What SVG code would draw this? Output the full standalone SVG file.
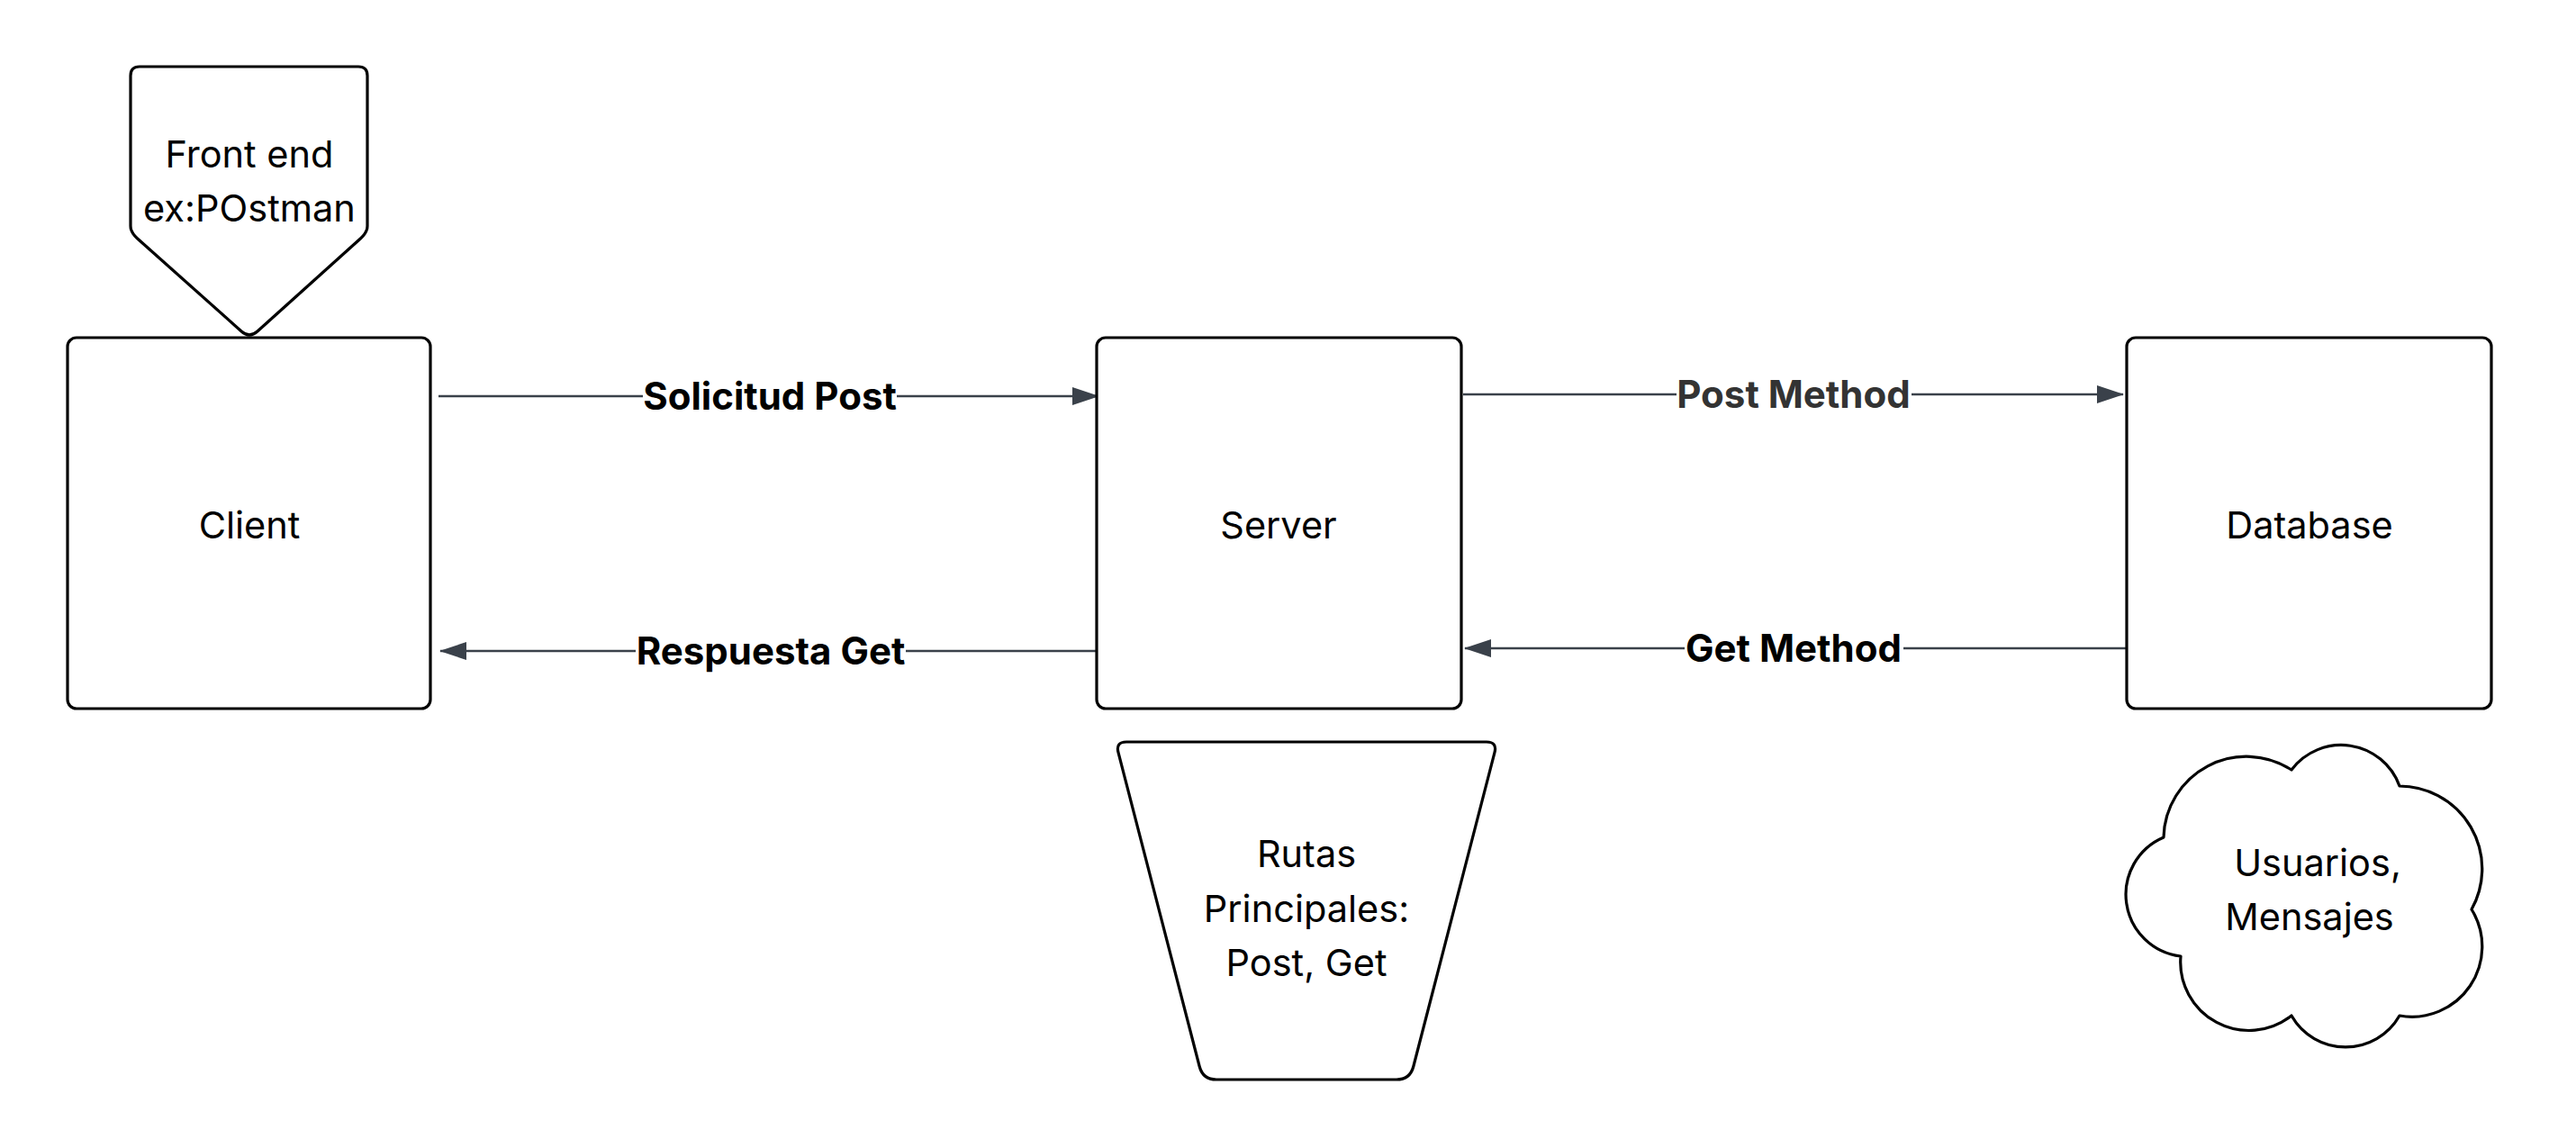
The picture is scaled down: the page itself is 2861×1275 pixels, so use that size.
<svg xmlns="http://www.w3.org/2000/svg" width="2861" height="1275" viewBox="0 0 2861 1275">
<style>
.node{fill:#fff;stroke:#000;stroke-width:3.2;stroke-linejoin:round}
.t{font-family:Inter,"Liberation Sans",sans-serif;font-size:41.5px;fill:#000;text-anchor:middle}
.lbl{font-family:Inter,"Liberation Sans",sans-serif;font-size:42px;font-weight:700;fill:#000;text-anchor:middle}
.edge{stroke:#3a414a;stroke-width:2.5;fill:none}
.bg{fill:#fff}
</style>
<defs>
<marker id="arr" viewBox="0 0 30 20" refX="29" refY="10" markerWidth="30" markerHeight="20" markerUnits="userSpaceOnUse" orient="auto">
<path d="M0,0 L30,10 L0,20 Z" fill="#3a414a"/>
</marker>
</defs>
<rect width="2861" height="1275" fill="#fff"/>
<g id="connectors">
<line class="edge" x1="487" y1="440" x2="1220" y2="440" marker-end="url(#arr)"/>
<rect class="bg" x="714" y="424" width="282" height="32"/>
<text class="lbl" x="855" y="455">Solicitud Post</text>
<line class="edge" x1="1225" y1="723" x2="489" y2="723" marker-end="url(#arr)"/>
<rect class="bg" x="706" y="707" width="300" height="32"/>
<text class="lbl" x="856" y="738">Respuesta Get</text>
<line class="edge" x1="1625" y1="438" x2="2358" y2="438" marker-end="url(#arr)"/>
<rect class="bg" x="1862" y="422" width="261" height="32"/>
<text class="lbl" x="1992" y="453" style="fill:#333">Post Method</text>
<line class="edge" x1="2361" y1="720" x2="1627" y2="720" marker-end="url(#arr)"/>
<rect class="bg" x="1871" y="704" width="243" height="32"/>
<text class="lbl" x="1992" y="735">Get Method</text>
</g>
<g id="frontend">
<path class="node" d="M155,74 L398,74 Q408,74 408,84 L408,251 Q408,258 400.6,264.7 L285.9,368 Q277,376 268.1,368 L152.4,264.7 Q145,258 145,251 L145,84 Q145,74 155,74 Z"/>
<text class="t" x="277" y="186">Front end</text>
<text class="t" x="277" y="246">ex:POstman</text>
</g>
<g id="client">
<rect class="node" x="75" y="375" width="403" height="412" rx="10"/>
<text class="t" x="277" y="598">Client</text>
</g>
<g id="server">
<rect class="node" x="1218" y="375" width="405" height="412" rx="10"/>
<text class="t" x="1420" y="598">Server</text>
</g>
<g id="database">
<rect class="node" x="2362" y="375" width="405" height="412" rx="10"/>
<text class="t" x="2565" y="598">Database</text>
</g>
<g id="rutas">
<path class="node" d="M1251,824 L1651,824 Q1663,824 1660,835.6 L1569.8,1184.5 Q1566,1199 1551,1199 L1351,1199 Q1336,1199 1332.2,1184.5 L1242,835.6 Q1239,824 1251,824 Z"/>
<text class="t" x="1451" y="963">Rutas</text>
<text class="t" x="1451" y="1024">Principales:</text>
<text class="t" x="1451" y="1084">Post, Get</text>
</g>
<g id="cloud">
<path class="node" d="M2422,1062 A69,69 0 0 1 2403,930 A92,92 0 0 1 2545,855 A69,69 0 0 1 2665,873 A92,92 0 0 1 2745,1010 A78,78 0 0 1 2665,1128 A69,69 0 0 1 2545,1128 A76,76 0 0 1 2422,1062 Z"/>
<text class="t" x="2574" y="973">Usuarios,</text>
<text class="t" x="2565" y="1033">Mensajes</text>
</g>
</svg>
